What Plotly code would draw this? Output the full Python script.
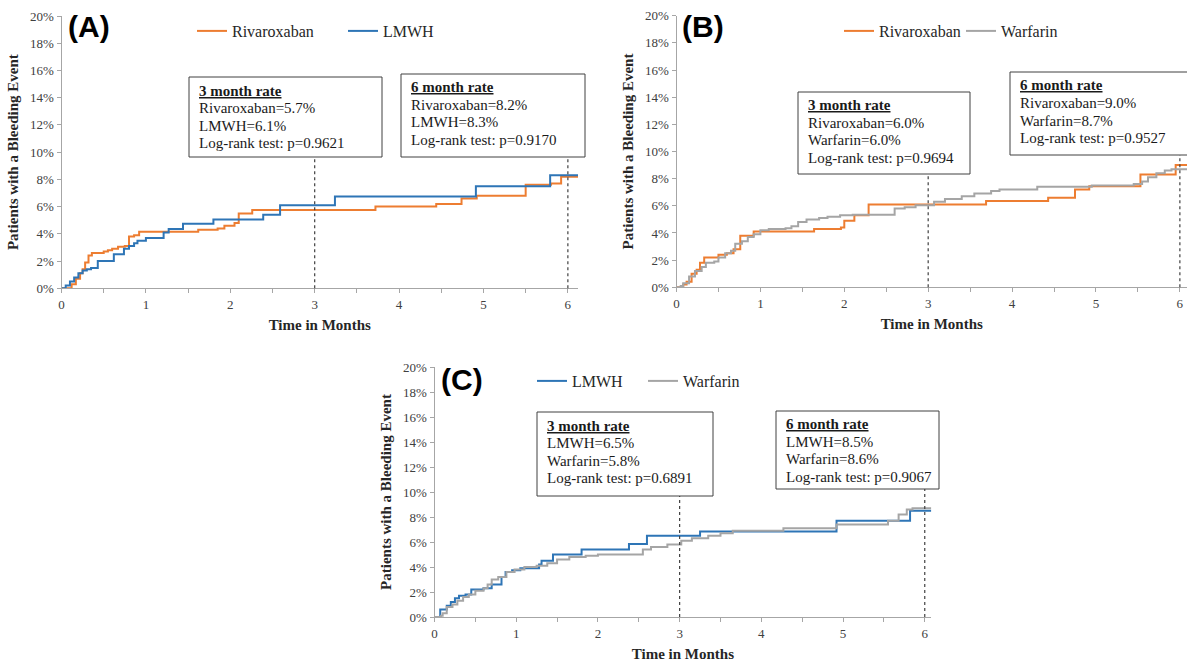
import plotly.graph_objects as go

W, H = 1187, 664

# ---------------- data: time in months / % of patients with a bleeding event ----------------
a_riva_t = [0, 0.12, 0.17, 0.22, 0.25, 0.28, 0.32, 0.36, 0.50, 0.55, 0.60, 0.67, 0.75, 0.80, 0.86, 0.92,
            1.62, 1.85, 1.93, 2.05, 2.10, 2.26, 3.72, 4.44, 4.74, 4.92, 5.50, 5.80, 5.92, 6.12]
a_riva_v = [0, 0.3, 0.7, 1.1, 1.4, 1.9, 2.4, 2.6, 2.7, 2.8, 2.9, 3.05, 3.1, 3.8, 3.9, 4.15,
            4.3, 4.4, 4.6, 4.8, 5.5, 5.75, 6.0, 6.2, 6.6, 6.8, 7.6, 7.7, 8.2, 8.2]
a_lmwh_t = [0, 0.05, 0.10, 0.15, 0.20, 0.25, 0.30, 0.35, 0.43, 0.62, 0.74, 0.80, 0.86, 0.90, 1.00,
            1.21, 1.27, 1.44, 1.80, 2.39, 2.59, 3.24, 4.91, 5.79, 6.12]
a_lmwh_v = [0, 0.2, 0.5, 0.8, 1.1, 1.3, 1.4, 1.5, 2.0, 2.5, 2.9, 3.1, 3.3, 3.5, 3.7,
            4.1, 4.35, 4.75, 5.05, 5.4, 6.1, 6.75, 7.5, 8.3, 8.3]

b_riva_t = [0, 0.08, 0.12, 0.18, 0.24, 0.28, 0.33, 0.50, 0.60, 0.68, 0.76, 0.92, 1.64, 1.96, 2.00,
            2.12, 2.29, 3.69, 4.43, 4.75, 4.92, 5.53, 5.95, 6.085]
b_riva_v = [0, 0.2, 0.4, 1.0, 1.3, 1.8, 2.2, 2.4, 2.5, 2.8, 3.8, 4.1, 4.3, 4.4, 4.9,
            5.3, 6.1, 6.35, 6.6, 7.2, 7.45, 8.3, 9.0, 9.0]
b_warf_t = [0, 0.05, 0.08, 0.15, 0.22, 0.30, 0.35, 0.45, 0.50, 0.58, 0.65, 0.70, 0.78, 0.85, 0.92,
            1.00, 1.10, 1.30, 1.37, 1.45, 1.55, 1.70, 1.80, 1.95, 2.10, 2.60, 2.72, 2.85, 3.07,
            3.20, 3.40, 3.55, 3.75, 3.85, 4.30, 4.95, 5.45, 5.55, 5.62, 5.72, 5.82, 5.90, 6.085]
b_warf_v = [0, 0.1, 0.3, 0.8, 1.2, 1.5, 1.8, 1.9, 2.2, 2.5, 2.7, 3.2, 3.4, 3.7, 3.9,
            4.2, 4.3, 4.35, 4.5, 4.8, 5.0, 5.1, 5.2, 5.3, 5.35, 5.8, 5.9, 6.05, 6.3,
            6.5, 6.7, 6.9, 7.1, 7.2, 7.4, 7.5, 7.6, 7.8, 8.1, 8.4, 8.6, 8.7, 8.7]

c_lmwh_t = [0, 0.07, 0.15, 0.20, 0.25, 0.30, 0.38, 0.45, 0.60, 0.70, 0.82, 0.87, 0.95, 1.05, 1.28,
            1.31, 1.45, 1.80, 2.38, 2.60, 3.25, 4.92, 5.82, 6.08]
c_lmwh_v = [0, 0.6, 0.9, 1.2, 1.5, 1.7, 1.8, 2.2, 2.3, 2.6, 3.2, 3.6, 3.75, 3.9, 4.2,
            4.5, 5.0, 5.4, 5.85, 6.5, 6.85, 7.7, 8.5, 8.5]
c_warf_t = [0, 0.08, 0.10, 0.15, 0.22, 0.28, 0.35, 0.42, 0.50, 0.60, 0.65, 0.70, 0.78, 0.88, 0.98,
            1.10, 1.25, 1.38, 1.50, 1.65, 1.85, 2.00, 2.55, 2.65, 2.85, 3.02, 3.15, 3.35, 3.50,
            3.65, 4.27, 4.92, 5.55, 5.68, 5.78, 5.85, 6.08]
c_warf_v = [0, 0.1, 0.3, 0.8, 1.0, 1.3, 1.6, 1.8, 2.1, 2.3, 2.6, 3.0, 3.2, 3.6, 3.8,
            4.0, 4.1, 4.3, 4.6, 4.8, 4.9, 5.0, 5.4, 5.6, 5.8, 6.1, 6.3, 6.5, 6.7,
            6.9, 7.1, 7.4, 7.7, 8.2, 8.6, 8.7, 8.7]

y_tick_vals = list(range(0, 21, 2))
y_tick_text = [f"{v}%" for v in y_tick_vals]
x_tick_vals = [0, 1, 2, 3, 4, 5, 6]
x_tick_text = ["0", "1", "2", "3", "4", "5", "6"]
panel_labels = ["(A)", "(B)", "(C)"]

box3_text = [
    ["3 month rate", "Rivaroxaban=5.7%", "LMWH=6.1%", "Log-rank test: p=0.9621"],
    ["3 month rate", "Rivaroxaban=6.0%", "Warfarin=6.0%", "Log-rank test: p=0.9694"],
    ["3 month rate", "LMWH=6.5%", "Warfarin=5.8%", "Log-rank test: p=0.6891"],
]
box6_text = [
    ["6 month rate", "Rivaroxaban=8.2%", "LMWH=8.3%", "Log-rank test: p=0.9170"],
    ["6 month rate", "Rivaroxaban=9.0%", "Warfarin=8.7%", "Log-rank test: p=0.9527"],
    ["6 month rate", "LMWH=8.5%", "Warfarin=8.6%", "Log-rank test: p=0.9067"],
]

ORANGE = "#ED7D31"
BLUE = "#2E75B6"
GRAY = "#A5A5A5"

series = [
    [("Rivaroxaban", a_riva_t, a_riva_v, ORANGE), ("LMWH", a_lmwh_t, a_lmwh_v, BLUE)],
    [("Rivaroxaban", b_riva_t, b_riva_v, ORANGE), ("Warfarin", b_warf_t, b_warf_v, GRAY)],
    [("LMWH", c_lmwh_t, c_lmwh_v, BLUE), ("Warfarin", c_warf_t, c_warf_v, GRAY)],
]

# ---------------- layout geometry (pixels) ----------------
panels = [
    dict(sfx="", xl=61.5, xr=578.0, yb=288.3, yt=16.0, xmax=6.12,
         box3=(189, 77, 382, 157), box6=(401, 74, 585, 157),
         leg=(192, 31), legw=106, lab=(89, 26)),
    dict(sfx="2", xl=676.5, xr=1187.0, yb=287.3, yt=15.7, xmax=6.085,
         box3=(798, 92, 970, 174), box6=(1010, 72, 1195, 155),
         leg=(839, 31), legw=77, lab=(703, 26)),
    dict(sfx="3", xl=434.5, xr=931.3, yb=617.0, yt=367.0, xmax=6.08,
         box3=(537, 412, 713, 496), box6=(776, 411, 939, 489),
         leg=(532, 381), legw=66, lab=(462, 379)),
]


def fx(p):
    return p / W


def fy(p):
    return 1 - p / H


SERIF = "Liberation Serif"
fig = go.Figure()
shapes = []
annotations = []
layout = {}

for i, pnl in enumerate(panels):
    s = pnl["sfx"]
    xa, ya = "x" + s, "y" + s
    legname = "legend" + s
    for name, t, v, col in series[i]:
        fig.add_trace(go.Scatter(
            x=t, y=v, mode="lines", name=name,
            line=dict(color=col, width=2, shape="hv"),
            xaxis=xa, yaxis=ya, legend=legname, hoverinfo="skip"))

    axis_common = dict(showline=True, linecolor="#A6A6A6", linewidth=1, showgrid=False,
                       zeroline=False, ticks="outside", tickcolor="#A6A6A6", ticklen=4,
                       tickmode="array",
                       tickfont=dict(family=SERIF, size=13, color="#404040"), automargin=False)
    layout["xaxis" + s] = dict(
        axis_common, domain=[fx(pnl["xl"]), fx(pnl["xr"])], range=[0, pnl["xmax"]],
        anchor=ya, tickvals=x_tick_vals, ticktext=x_tick_text,
        minor=dict(tickvals=[k + 0.5 for k in range(6)], ticks="outside", ticklen=4,
                   tickcolor="#A6A6A6"),
        title=dict(text="Time in Months", standoff=8,
                   font=dict(family=SERIF, size=15, color="#262626", weight="bold")))
    layout["yaxis" + s] = dict(
        axis_common, domain=[fy(pnl["yb"]), fy(pnl["yt"])], range=[0, 20],
        anchor=xa, tickvals=y_tick_vals, ticktext=y_tick_text,
        title=dict(text="Patients with a Bleeding Event", standoff=7,
                   font=dict(family=SERIF, size=15, color="#262626", weight="bold")))
    layout[legname] = dict(
        x=fx(pnl["leg"][0]), y=fy(pnl["leg"][1]), xanchor="left", yanchor="middle",
        orientation="h", bgcolor="rgba(0,0,0,0)", borderwidth=0,
        entrywidth=pnl["legw"], entrywidthmode="pixels", tracegroupgap=0,
        font=dict(family=SERIF, size=16, color="#262626"))

    # panel letter
    annotations.append(dict(
        text="<b>" + panel_labels[i] + "</b>", x=fx(pnl["lab"][0]), y=fy(pnl["lab"][1]),
        xref="paper", yref="paper", showarrow=False, xanchor="center", yanchor="middle",
        font=dict(family="Liberation Sans", size=30, color="#000000")))

    # text boxes + dotted reference lines
    for mark, box, lines in ((3, pnl["box3"], box3_text[i]), (6, pnl["box6"], box6_text[i])):
        x0, y0, x1, y1 = box
        shapes.append(dict(type="rect", xref="paper", yref="paper",
                           x0=fx(x0), x1=fx(x1), y0=fy(y1), y1=fy(y0),
                           line=dict(color="#404040", width=1), fillcolor="white", layer="above"))
        shapes.append(dict(type="line", xref=xa, yref="paper", x0=mark, x1=mark,
                           y0=fy(pnl["yb"]), y1=fy(y1),
                           line=dict(color="#404040", width=1.2, dash="dot")))
        for k, txt in enumerate(lines):
            label = "<b><u>" + txt + "</u></b>" if k == 0 else txt
            annotations.append(dict(
                text=label, x=fx(x0 + 8), y=fy(y0 + 13.5 + 17.5 * k),
                xref="paper", yref="paper", showarrow=False,
                xanchor="left", yanchor="middle",
                font=dict(family=SERIF, size=15, color="#1a1a1a")))

fig.update_layout(
    width=W, height=H, autosize=False,
    margin=dict(l=0, r=0, t=0, b=0),
    paper_bgcolor="white", plot_bgcolor="white",
    template="none", showlegend=True,
    shapes=shapes, annotations=annotations,
    **layout)

fig.write_html("out.html", config={"displayModeBar": False},
               post_script="document.body.style.margin='0px';document.body.style.overflow='hidden';")
